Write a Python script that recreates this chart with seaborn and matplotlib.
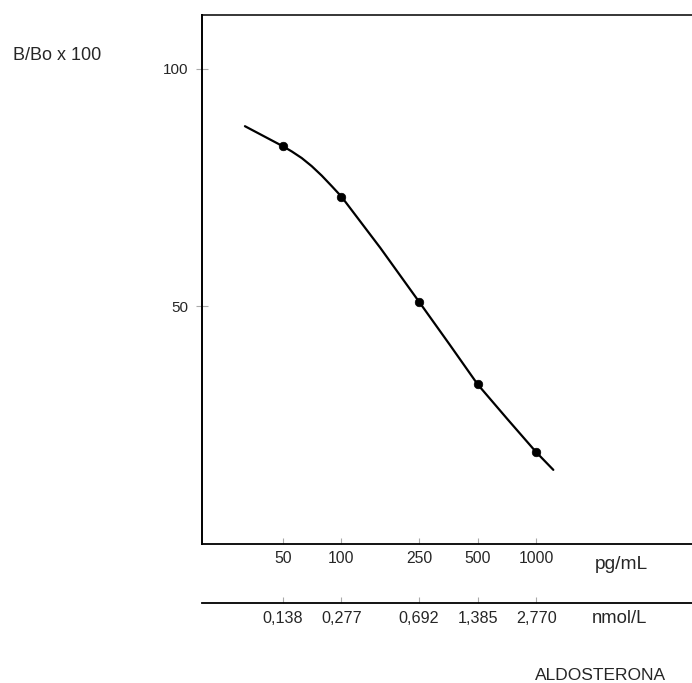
import matplotlib
matplotlib.use("Agg")
from matplotlib import pyplot as plt
import seaborn as sns
import pandas as pd

# standard points of the aldosterone curve
conc = [50, 100, 250, 500, 1000]
bbo = [83.7, 73.1, 51.0, 33.6, 19.3]

# fitted curve
curve_x = [32.0, 50, 55.6, 62.6, 70.4, 79.3, 89.2, 100, 158.4, 250, 358.7, 500, 711.9, 1000, 1223]
curve_y = [87.9, 83.7, 82.6, 81.2, 79.5, 77.5, 75.3, 73.1, 62.3, 51.0, 42.0, 33.6, 26.25, 19.3, 15.6]

pg_ticks = [50, 100, 250, 500, 1000]
pg_labels = ["50", "100", "250", "500", "1000"]
nmol_labels = ["0,138", "0,277", "0,692", "1,385", "2,770"]
y_ticks = [50, 100]

sns.set_style("white")
plt.rcParams["font.family"] = ["Liberation Sans", "DejaVu Sans"]

W, H = 692, 683
fig = plt.figure(figsize=(W / 100, H / 100), dpi=100)
ax = fig.add_axes([201.7 / W, (H - 544) / H, 490.3 / W, 529.5 / H])

curve = pd.DataFrame({"x": curve_x, "y": curve_y})
pts = pd.DataFrame({"x": conc, "y": bbo})
sns.lineplot(data=curve, x="x", y="y", ax=ax, color="black", linewidth=1.6, sort=False)
sns.scatterplot(data=pts, x="x", y="y", ax=ax, color="black", s=38, marker="o",
                edgecolor="black", zorder=3)

ax.set_xscale("log")
ax.set_xlim(19.2, 6295)
ax.set_ylim(0, 111.4)
ax.set_xlabel("")
ax.set_ylabel("")
ax.minorticks_off()

ax.set_xticks(pg_ticks)
ax.set_xticklabels(pg_labels)
ax.set_yticks(y_ticks)
ax.set_yticklabels([str(v) for v in y_ticks])

ax.spines["right"].set_visible(False)
ax.spines["left"].set_linewidth(1.4)
ax.spines["bottom"].set_linewidth(1.3)
ax.spines["top"].set_linewidth(1.1)
for s in ax.spines.values():
    s.set_color("black")

ax.tick_params(axis="x", direction="in", length=4, width=0.8, color="#aaaaaa",
               labelsize=11.3, pad=5, bottom=True)
ax.tick_params(axis="y", direction="inout", length=8.4, width=0.8, color="#aaaaaa",
               labelsize=11, pad=5.2, left=True)

# second concentration scale in nmol/L
sec = ax.secondary_xaxis(-58.6 / 529.5)
sec.set_xscale("log")
sec.set_xticks(pg_ticks)
sec.set_xticklabels(nmol_labels)
sec.minorticks_off()
sec.tick_params(axis="x", direction="in", length=4, width=0.8, color="#aaaaaa",
                labelsize=11.6, pad=6)
sec.spines["bottom"].set_linewidth(1.3)
sec.spines["bottom"].set_color("black")

fig.text(13.3 / W, 1 - 55 / H, "B/Bo x 100", fontsize=13, ha="left", va="center")
fig.text(621 / W, 1 - 569 / H, "pg/mL", fontsize=13.8, ha="center", va="baseline")
fig.text(619.5 / W, 1 - 623 / H, "nmol/L", fontsize=13.3, ha="center", va="baseline")
fig.text(666 / W, 1 - 680.5 / H, "ALDOSTERONA", fontsize=12.5, ha="right", va="baseline")

fig.savefig("out.png", dpi=100)
